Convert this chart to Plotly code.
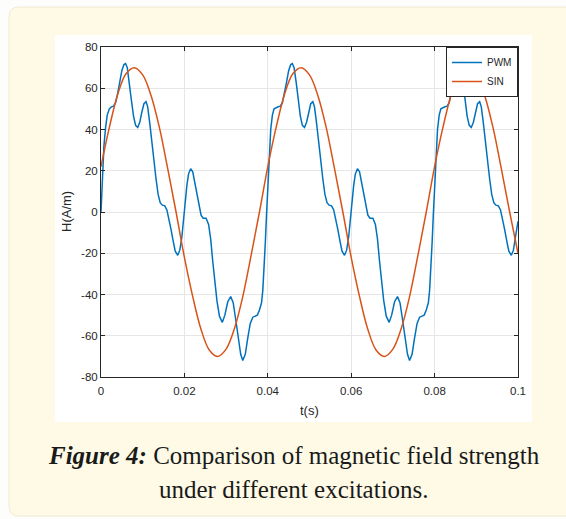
import plotly.graph_objects as go

# ---------------- data ----------------
pwm_t = [
    0.0000, 0.0003, 0.0007, 0.0011, 0.0015, 0.0020, 0.0025, 0.0030, 0.0035, 0.0040,
    0.0045, 0.0050, 0.0055, 0.0059, 0.0063, 0.0068, 0.0073, 0.0078, 0.0083, 0.0088,
    0.0093, 0.0098, 0.0103, 0.0108, 0.0112, 0.0117, 0.0122, 0.0127, 0.0132, 0.0137,
    0.0142, 0.0147, 0.0153, 0.0158, 0.0163, 0.0168, 0.0173, 0.0178, 0.0184, 0.0189,
    0.0194, 0.0198, 0.0202, 0.0206, 0.0210, 0.0215, 0.0220, 0.0225, 0.0230, 0.0235,
    0.0240, 0.0245, 0.0252, 0.0258, 0.0263, 0.0268, 0.0273, 0.0278, 0.0284, 0.0291,
    0.0297, 0.0304, 0.0311, 0.0317, 0.0323, 0.0329, 0.0335, 0.0340, 0.0346, 0.0352,
    0.0358, 0.0364, 0.0370, 0.0375, 0.0380, 0.0385, 0.0388, 0.0391, 0.0394, 0.0397,
    0.0400, 0.0403, 0.0407, 0.0411, 0.0415,
    0.0425, 0.0430, 0.0435, 0.0440, 0.0445, 0.0450, 0.0455, 0.0459, 0.0463, 0.0468,
    0.0473, 0.0478, 0.0483, 0.0488, 0.0493, 0.0498, 0.0503, 0.0508, 0.0512, 0.0517,
    0.0522, 0.0527, 0.0532, 0.0537, 0.0542, 0.0547, 0.0553, 0.0558, 0.0563, 0.0568,
    0.0573, 0.0578, 0.0584, 0.0589, 0.0594, 0.0598, 0.0602, 0.0606, 0.0610, 0.0615,
    0.0620, 0.0625, 0.0630, 0.0635, 0.0640, 0.0645, 0.0652, 0.0658, 0.0663, 0.0668,
    0.0673, 0.0678, 0.0684, 0.0691, 0.0697, 0.0704, 0.0711, 0.0717, 0.0723, 0.0729,
    0.0735, 0.0740, 0.0746, 0.0752, 0.0758, 0.0764, 0.0770, 0.0775, 0.0780, 0.0785,
    0.0788, 0.0791, 0.0794, 0.0797,
    0.0800, 0.0803, 0.0807, 0.0811, 0.0815,
    0.0825, 0.0830, 0.0835, 0.0840, 0.0845, 0.0850, 0.0855, 0.0859, 0.0863, 0.0868,
    0.0873, 0.0878, 0.0883, 0.0888, 0.0893, 0.0898, 0.0903, 0.0908, 0.0912, 0.0917,
    0.0922, 0.0927, 0.0932, 0.0937, 0.0942, 0.0947, 0.0953, 0.0958, 0.0963, 0.0968,
    0.0973, 0.0978, 0.0984, 0.0989, 0.0994, 0.1000,
]
pwm_h = [
    0, 18, 32, 41, 47, 50, 51, 51.3, 53, 57.5,
    63, 68.5, 71.5, 72, 70, 63, 54, 46.5, 42, 41,
    43.5, 48.5, 52.5, 53.5, 51, 43, 33, 24, 16, 8.5,
    4.5, 3.3, 3, 1, -3, -8.5, -14, -19, -21, -18.5,
    -12, -3, 6, 13, 18.5, 21, 19.5, 14, 8, 2.5,
    -1.5, -3, -3, -6, -13, -24, -34, -43, -50.5, -53.5,
    -50, -43.5, -41, -44, -52, -61, -69, -72, -69, -61,
    -54, -51, -50.5, -50, -47.5, -44, -38, -28, -15, -1,
    13, 26, 40, 47, 50,
    51, 51.3, 53, 57.5, 63, 68.5, 71.5, 72, 70, 63,
    54, 46.5, 42, 41, 43.5, 48.5, 52.5, 53.5, 51, 43,
    33, 24, 16, 8.5, 4.5, 3.3, 3, 1, -3, -8.5,
    -14, -19, -21, -18.5, -12, -3, 6, 13, 18.5, 21,
    19.5, 14, 8, 2.5, -1.5, -3, -3, -6, -13, -24,
    -34, -43, -50.5, -53.5, -50, -43.5, -41, -44, -52, -61,
    -69, -72, -69, -61, -54, -51, -50.5, -50, -47.5, -44,
    -38, -28, -15, -1,
    13, 26, 40, 47, 50,
    51, 51.3, 53, 57.5, 63, 68.5, 71.5, 72, 70, 63,
    54, 46.5, 42, 41, 43.5, 48.5, 52.5, 53.5, 51, 43,
    33, 24, 16, 8.5, 4.5, 3.3, 3, 1, -3, -8.5,
    -14, -19, -21, -18.5, -12, -4.5,
]

sin_t = [
    0.000, 0.002, 0.004, 0.006, 0.008, 0.010, 0.012, 0.014, 0.016, 0.018,
    0.020, 0.022, 0.024, 0.026, 0.028, 0.030, 0.032, 0.034, 0.036, 0.038,
    0.040, 0.042, 0.044, 0.046, 0.048, 0.050, 0.052, 0.054, 0.056, 0.058,
    0.060, 0.062, 0.064, 0.066, 0.068, 0.070, 0.072, 0.074, 0.076, 0.078,
    0.080, 0.082, 0.084, 0.086, 0.088, 0.090, 0.092, 0.094, 0.096, 0.098,
    0.100,
]
sin_h = [
    22, 41, 57, 67, 70, 66.5, 56.5, 41, 21, 0,
    -22, -41, -57, -67, -70, -66.5, -56.5, -41, -21, 0,
    22, 41, 57, 67, 70, 66.5, 56.5, 41, 21, 0,
    -22, -41, -57, -67, -70, -66.5, -56.5, -41, -21, 0,
    22, 41, 57, 67, 70, 66.5, 56.5, 41, 21, 0,
    -20,
]

x_ticks = [0, 0.02, 0.04, 0.06, 0.08, 0.1]
x_tick_labels = ["0", "0.02", "0.04", "0.06", "0.08", "0.1"]
y_ticks = [-80, -60, -40, -20, 0, 20, 40, 60, 80]
y_tick_labels = ["-80", "-60", "-40", "-20", "0", "20", "40", "60", "80"]

series_names = ["PWM", "SIN"]
caption_bold = "Figure 4:"
caption_line1 = " Comparison of magnetic field strength"
caption_line2 = "under different excitations."
x_title = "t(s)"
y_title = "H(A/m)"

# ---------------- figure ----------------
W, H = 566, 519
L, R, T, B = 101, 48, 47, 142
pw, ph = W - L - R, H - T - B


def px_x(px):
    return (px - L) / pw


def px_y(py):
    return (H - B - py) / ph


fig = go.Figure()
fig.add_trace(go.Scatter(x=pwm_t, y=pwm_h, mode="lines", name=series_names[0],
                         line=dict(color="#0072BD", width=1.5)))
fig.add_trace(go.Scatter(x=sin_t, y=sin_h, mode="lines", name=series_names[1],
                         line=dict(color="#D95319", width=1.5, shape="spline")))

axis_common = dict(
    showline=True, linecolor="#262626", linewidth=1, mirror="ticks",
    ticks="inside", ticklen=4, tickcolor="#262626", tickwidth=1,
    showgrid=True, gridcolor="#e6e6e6", gridwidth=1, zeroline=False,
    tickfont=dict(family="Liberation Sans, Arial, sans-serif", size=11.5, color="#262626"),
)
fig.update_xaxes(range=[0, 0.1], tickvals=x_ticks, ticktext=x_tick_labels,
                 ticklabelstandoff=3, **axis_common)
fig.update_yaxes(range=[-80, 80], tickvals=y_ticks, ticktext=y_tick_labels, **axis_common)

# background boxes (cream page card + white figure panel)
x0, x1 = px_x(9), px_x(572)
yt, yb = px_y(7), px_y(516)
rx, ry = 10 / pw, 10 / ph
card_path = (f"M {x0+rx},{yt} L {x1},{yt} L {x1},{yb} L {x0+rx},{yb} "
             f"Q {x0},{yb} {x0},{yb+ry} L {x0},{yt-ry} Q {x0},{yt} {x0+rx},{yt} Z")
shapes = [
    dict(type="path", xref="paper", yref="paper", path=card_path,
         fillcolor="#FEFAE6", line=dict(color="#EEEAD6", width=1), layer="below"),
    dict(type="rect", xref="paper", yref="paper",
         x0=px_x(55), x1=px_x(532), y0=px_y(422), y1=px_y(35),
         fillcolor="#FFFFFF", line=dict(width=0), layer="below"),
]

annotations = [
    dict(text=y_title, xref="paper", yref="paper", x=px_x(66), y=0.5,
         textangle=-90, showarrow=False, xanchor="center", yanchor="middle",
         font=dict(family="Liberation Sans, Arial, sans-serif", size=13, color="#262626")),
    dict(text=x_title, xref="paper", yref="paper", x=0.5, y=px_y(410.5),
         showarrow=False, xanchor="center", yanchor="middle",
         font=dict(family="Liberation Sans, Arial, sans-serif", size=13, color="#262626")),
    dict(text=f"<b><i>{caption_bold}</i></b>{caption_line1}", xref="paper", yref="paper",
         x=px_x(294), y=px_y(455.5), showarrow=False, xanchor="center", yanchor="middle",
         font=dict(family="Liberation Serif, Times New Roman, serif", size=25, color="#1a1a1a")),
    dict(text=caption_line2, xref="paper", yref="paper",
         x=px_x(294), y=px_y(489.5), showarrow=False, xanchor="center", yanchor="middle",
         font=dict(family="Liberation Serif, Times New Roman, serif", size=25, color="#1a1a1a")),
]

fig.update_layout(
    width=W, height=H,
    margin=dict(l=L, r=R, t=T, b=B, pad=0),
    paper_bgcolor="#FDFDFB", plot_bgcolor="#FFFFFF",
    shapes=shapes, annotations=annotations,
    legend=dict(x=1, y=1, xanchor="right", yanchor="top",
                bgcolor="#FFFFFF", bordercolor="#262626", borderwidth=1,
                font=dict(family="Liberation Sans, Arial, sans-serif", size=10, color="#262626"),
                itemwidth=30, tracegroupgap=0),
    showlegend=True,
)

fig.write_html("out.html",
               config={"displayModeBar": False},
               post_script="document.body.style.margin='0';document.body.style.padding='0';"
                           "document.body.style.overflow='hidden';")
